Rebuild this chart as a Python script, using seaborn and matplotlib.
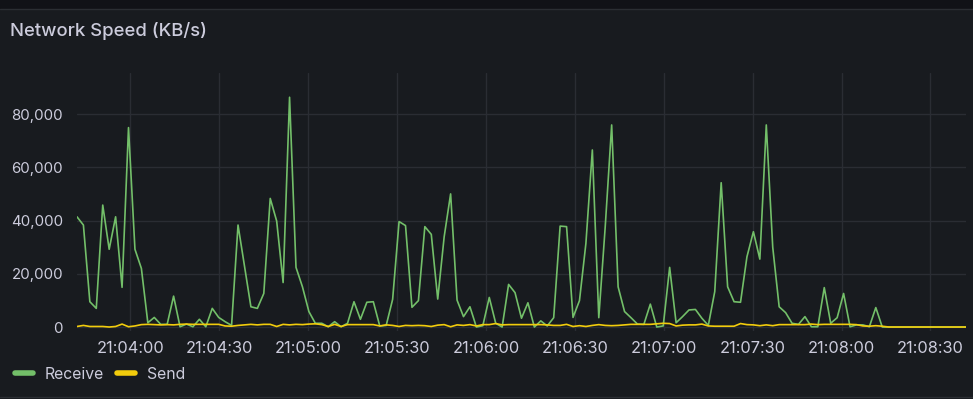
import matplotlib
matplotlib.use("Agg")
import matplotlib.pyplot as plt
import matplotlib.dates as mdates
from matplotlib.patches import Rectangle
from matplotlib.lines import Line2D
import pandas as pd
import seaborn as sns

# values in KB/s (thousands)
receive_k = [
    41.4, 38.3, 9.5, 7.0, 45.8, 29.2, 41.4, 14.9, 74.9, 29.2,
    22.0, 1.6, 3.6, 1.0, 1.0, 11.6, 0.1, 1.1, 0.1, 2.9,
    0.1, 7.0, 3.6, 2.0, 0.6, 38.3, 23.0, 7.6, 7.0, 12.6,
    48.3, 39.8, 16.7, 86.3, 22.4, 15.1, 5.8, 1.4, 1.4, 0.1,
    2.0, 0.1, 1.4, 9.5, 2.9, 9.3, 9.5, 0.4, 0.6, 10.4,
    39.6, 38.1, 7.4, 9.9, 37.7, 34.8, 10.5, 33.9, 50.0, 10.1,
    3.9, 7.6, 0.0, 0.5, 11.1, 1.4, 0.0, 16.0, 12.9, 3.3,
    9.1, 0.0, 2.3, 0.4, 3.5, 37.9, 37.7, 3.6, 9.9, 31.4,
    66.5, 3.5, 37.7, 75.9, 15.1, 5.8, 3.5, 1.1, 1.0, 8.6,
    0.0, 0.4, 22.4, 1.6, 3.9, 6.4, 6.6, 3.3, 0.6, 13.3,
    54.2, 15.1, 9.5, 9.3, 26.4, 35.8, 25.5, 75.9, 30.0, 7.6,
    5.4, 1.4, 1.0, 3.9, 0.1, 0.1, 14.8, 1.4, 3.5, 12.6,
    0.1, 0.8, 0.8, 0.1, 7.3, 0.0, 0.0, 0.0, 0.0, 0.0,
    0.0, 0.0, 0.0, 0.0, 0.0, 0.0, 0.0, 0.0, 0.0,
]
send_k = [
    0.2, 0.6, 0.2, 0.2, 0.2, 0.0, 0.2, 1.1, 0.1, 0.4,
    0.9, 1.0, 0.9, 0.8, 0.9, 0.8, 1.0, 1.1, 1.0, 1.0,
    1.0, 1.0, 1.0, 0.4, 0.3, 0.6, 0.8, 1.0, 0.8, 1.0,
    1.0, 0.2, 1.0, 0.8, 1.0, 0.9, 1.1, 1.2, 0.9, 0.2,
    1.0, 0.2, 0.9, 0.9, 0.9, 0.9, 0.9, 0.4, 0.8, 0.6,
    0.2, 0.6, 0.5, 0.6, 0.5, 0.2, 0.7, 0.9, 0.1, 0.8,
    0.6, 0.9, 0.4, 0.9, 0.9, 1.3, 0.8, 0.9, 0.9, 0.9,
    0.9, 0.9, 0.9, 0.8, 0.6, 0.6, 1.0, 0.2, 0.5, 0.2,
    0.6, 0.9, 0.6, 0.5, 0.6, 0.8, 1.0, 1.0, 1.0, 1.0,
    1.2, 1.4, 1.3, 0.4, 0.7, 0.8, 0.8, 1.1, 0.4, 0.3,
    0.3, 0.3, 0.3, 1.3, 0.9, 0.8, 0.5, 0.8, 0.5, 0.9,
    0.9, 0.9, 0.9, 0.9, 1.1, 0.9, 1.0, 1.0, 1.0, 1.0,
    1.0, 0.9, 0.4, 0.3, 0.5, 0.3, 0.0, 0.0, 0.0, 0.0,
    0.0, 0.0, 0.0, 0.0, 0.0, 0.0, 0.0, 0.0, 0.0,
]
assert len(receive_k) == len(send_k)

series_names = ["Receive", "Send"]
series_colors = ["#73bf69", "#f2cc0c"]
start_time = "2024-01-01 21:03:42"
end_time = "2024-01-01 21:08:42"

times = pd.date_range(start_time, end_time, periods=len(receive_k))
df = pd.DataFrame({
    "time": list(times) * 2,
    "value": [v * 1000 for v in receive_k] + [v * 1000 for v in send_k],
    "series": ["Receive"] * len(receive_k) + ["Send"] * len(send_k),
})

sns.set_theme(style="dark")
plt.rcParams["font.family"] = ["Inter", "DejaVu Sans"]

bg = "#181b1f"
text_col = "#ccccdc"
grid_col = "#2a2d33"

fig = plt.figure(figsize=(9.73, 3.99), dpi=100, facecolor=bg)
# panel border / outer strip
fig.patches.append(Rectangle((0, 0.978), 1, 0.022, transform=fig.transFigure,
                             facecolor="#111217", edgecolor="none", zorder=0))
fig.lines.append(Line2D([0, 1], [0.978, 0.978], transform=fig.transFigure,
                        color="#2b2e33", lw=1))
fig.lines.append(Line2D([0, 1], [0.004, 0.004], transform=fig.transFigure,
                        color="#2b2e33", lw=1))

ax = fig.add_axes([0.0791, 0.1704, 0.9137, 0.6466])
ax.set_facecolor(bg)

sns.lineplot(data=df, x="time", y="value", hue="series", hue_order=series_names,
             palette=series_colors, linewidth=1.2, ax=ax, legend=False)

ax.set_xlim(times[0], times[-1])
ax.set_ylim(-1500, 95400)
ax.set_yticks([0, 20000, 40000, 60000, 80000])
ax.yaxis.set_major_formatter(matplotlib.ticker.FuncFormatter(lambda v, p: f"{int(v):,}"))
ax.xaxis.set_major_locator(mdates.SecondLocator(bysecond=[0, 30]))
ax.xaxis.set_major_formatter(mdates.DateFormatter("%H:%M:%S"))

ax.grid(True, color=grid_col, linewidth=1)
for s in ax.spines.values():
    s.set_visible(False)
ax.tick_params(axis="y", length=0, labelsize=10.8, colors=text_col, pad=10)
ax.tick_params(axis="x", length=0, labelsize=11.8, colors=text_col, pad=7)
ax.set_xlabel("")
ax.set_ylabel("")

fig.text(0.010, 0.922, "Network Speed (KB/s)", color=text_col, fontsize=13.3,
         fontweight="medium", va="center", ha="left")

handles = [Line2D([0], [0], color=c, lw=4, solid_capstyle="round") for c in series_colors]
leg = fig.legend(handles, series_names, loc="center left", bbox_to_anchor=(0.001, 0.062),
                 ncol=2, frameon=False, fontsize=11.4, handlelength=1.15,
                 handletextpad=0.7, columnspacing=0.85, labelcolor=text_col)

fig.savefig("out.png", dpi=100, facecolor=bg)
